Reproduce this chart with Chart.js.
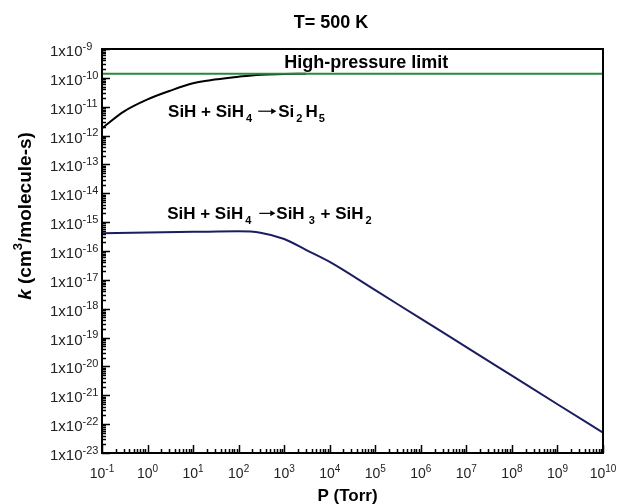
<!DOCTYPE html>
<html>
<head>
<meta charset="utf-8">
<script src="https://cdn.jsdelivr.net/npm/chart.js@4.4.1/dist/chart.umd.min.js"></script>
<style>
  html, body { margin: 0; padding: 0; background: #fff; }
</style>
</head>
<body>
<canvas id="rate-chart" width="617" height="504"></canvas>
<script>
// pressure (Torr) and rate constants k (cm3/molecule-s) at T = 500 K
const pressureAdd = [0.1, 0.3, 1, 3, 10, 30, 100, 300, 1000, 3000];
const kAdd = [1.8e-12, 6.8e-12, 1.8e-11, 3.5e-11, 6.5e-11, 8.7e-11, 1.1e-10, 1.29e-10, 1.35e-10, 1.4e-10];

const pressureAbs = [0.1, 1, 10, 100, 300, 1000, 3000, 1e4, 1e5, 1e6, 1e7, 1e8, 1e9, 1e10];
const kAbs = [4.1e-16, 4.4e-16, 4.6e-16, 4.8e-16, 4.3e-16, 2.6e-16, 1.1e-16, 4.2e-17, 4.4e-18, 4.5e-19, 4.7e-20, 4.8e-21, 4.9e-22, 5.1e-23];

const pressureLimit = [0.1, 1e10];
const kLimit = [1.4e-10, 1.4e-10];

const xExps = [-1, 0, 1, 2, 3, 4, 5, 6, 7, 8, 9, 10];
const yExps = [-23, -22, -21, -20, -19, -18, -17, -16, -15, -14, -13, -12, -11, -10, -9];

const FONT = '"Liberation Sans", Arial, sans-serif';

const toPoints = (xs, ys) => xs.map((x, i) => ({ x, y: ys[i] }));

// rich text: segments of {t, sub, sup, it} or {gap} or {arrow}
function drawRich(ctx, segs, x, y, size, align) {
    const small = Math.round(size * 0.66);
    const fontOf = s => `${s.it ? 'italic ' : ''}bold ${s.sub || s.sup ? small : size}px ${FONT}`;
    const widthOf = s => {
        if (s.gap) return s.gap;
        if (s.arrow) return s.arrow;
        ctx.font = fontOf(s);
        return ctx.measureText(s.t).width;
    };
    const total = segs.reduce((w, s) => w + widthOf(s), 0);
    let cx = align === 'center' ? x - total / 2 : x;
    ctx.textAlign = 'left';
    ctx.textBaseline = 'alphabetic';
    segs.forEach(s => {
        const w = widthOf(s);
        if (s.arrow) {
            const ay = y - size * 0.33;
            ctx.save();
            ctx.lineWidth = 1.2;
            ctx.beginPath();
            ctx.moveTo(cx, ay);
            ctx.lineTo(cx + w - 1, ay);
            ctx.stroke();
            ctx.beginPath();
            ctx.moveTo(cx + w, ay);
            ctx.lineTo(cx + w - 5, ay - 3);
            ctx.lineTo(cx + w - 5, ay + 3);
            ctx.closePath();
            ctx.fill();
            ctx.restore();
        } else if (s.t) {
            ctx.font = fontOf(s);
            const dy = s.sub ? size * 0.32 : s.sup ? -size * 0.45 : 0;
            ctx.fillText(s.t, cx, y + dy);
        }
        cx += w;
    });
}

function supLabel(ctx, base, sup, x, y, size, align) {
    ctx.font = `${size}px ${FONT}`;
    const wb = ctx.measureText(base).width;
    ctx.font = `${Math.round(size * 0.7)}px ${FONT}`;
    const ws = ctx.measureText(sup).width;
    const x0 = align === 'center' ? x - (wb + ws) / 2 : x;
    ctx.textAlign = 'left';
    ctx.textBaseline = 'alphabetic';
    ctx.font = `${size}px ${FONT}`;
    ctx.fillText(base, x0, y);
    ctx.font = `${Math.round(size * 0.7)}px ${FONT}`;
    ctx.fillText(sup, x0 + wb, y - size * 0.42);
}

const notes = [
    { p: 10 ** 4.8, k: 10 ** -9.67, align: 'center', size: 18, segs: [{ t: 'High-pressure limit' }] },
    { p: 10 ** 0.45, k: 10 ** -11.35, align: 'left', size: 17,
      segs: [{ t: 'SiH + SiH' }, { gap: 2 }, { t: '4', sub: true }, { gap: 6 }, { arrow: 18 }, { gap: 2 },
             { t: 'Si' }, { gap: 2 }, { t: '2', sub: true }, { gap: 3 }, { t: 'H' }, { gap: 1 }, { t: '5', sub: true }] },
    { p: 10 ** 0.43, k: 10 ** -14.89, align: 'left', size: 17,
      segs: [{ t: 'SiH + SiH' }, { gap: 2 }, { t: '4', sub: true }, { gap: 8 }, { arrow: 16 }, { gap: 1 },
             { t: 'SiH' }, { gap: 4 }, { t: '3', sub: true }, { gap: 1 }, { t: ' + SiH' }, { gap: 2 }, { t: '2', sub: true }] }
];

const decor = {
    id: 'decor',
    afterDatasetsDraw(chart) {
        const { ctx, chartArea: a, scales: { x, y } } = chart;
        ctx.save();
        ctx.strokeStyle = '#000';
        ctx.fillStyle = '#000';

        // inward ticks
        ctx.lineWidth = 1.5;
        ctx.beginPath();
        xExps.forEach(e => {
            for (let m = 1; m <= 9; m++) {
                const v = m * 10 ** e;
                if (v > x.max * 1.0001) break;
                const px = Math.round(x.getPixelForValue(v)) + 0.5;
                const len = m === 1 ? 8 : 4;
                ctx.moveTo(px, a.bottom);
                ctx.lineTo(px, a.bottom - len);
            }
        });
        yExps.forEach(e => {
            for (let m = 1; m <= 9; m++) {
                const v = m * 10 ** e;
                if (v > y.max * 1.0001) break;
                const py = Math.round(y.getPixelForValue(v)) + 0.5;
                const len = m === 1 ? 8 : 4;
                ctx.moveTo(a.left, py);
                ctx.lineTo(a.left + len, py);
            }
        });
        ctx.stroke();

        // frame
        ctx.lineWidth = 2;
        ctx.strokeRect(a.left, a.top, a.right - a.left, a.bottom - a.top);

        // tick labels
        ctx.fillStyle = '#222';
        xExps.forEach(e => {
            supLabel(ctx, '10', String(e), x.getPixelForValue(10 ** e), a.bottom + 25, 14, 'center');
        });
        yExps.forEach(e => {
            supLabel(ctx, '1x10', String(e), a.left - 52, y.getPixelForValue(10 ** e) + 7, 15, 'left');
        });

        // titles
        ctx.fillStyle = '#000';
        drawRich(ctx, [{ t: 'T= 500 K' }], a.left + 229, 28, 18, 'center');
        drawRich(ctx, [{ t: 'P (Torr)' }], (a.left + a.right) / 2 - 5, 501, 17, 'center');
        ctx.save();
        ctx.translate(31, a.top + 167);
        ctx.rotate(-Math.PI / 2);
        drawRich(ctx, [{ t: 'k', it: true }, { t: ' (cm' }, { t: '3', sup: true }, { t: '/molecule-s)' }], 0, 0, 19, 'center');
        ctx.restore();

        // curve labels
        notes.forEach(n => {
            drawRich(ctx, n.segs, x.getPixelForValue(n.p), y.getPixelForValue(n.k), n.size, n.align);
        });
        ctx.restore();
    }
};

new Chart(document.getElementById('rate-chart').getContext('2d'), {
    type: 'line',
    data: {
        datasets: [
            {
                label: 'High-pressure limit',
                data: toPoints(pressureLimit, kLimit),
                borderColor: 'rgb(40, 138, 56)',
                borderWidth: 2,
                pointRadius: 0
            },
            {
                label: 'SiH + SiH4 -> Si2H5',
                data: toPoints(pressureAdd, kAdd),
                borderColor: '#000',
                borderWidth: 2,
                pointRadius: 0,
                cubicInterpolationMode: 'monotone'
            },
            {
                label: 'SiH + SiH4 -> SiH3 + SiH2',
                data: toPoints(pressureAbs, kAbs),
                borderColor: 'rgb(28, 28, 96)',
                borderWidth: 2,
                pointRadius: 0,
                cubicInterpolationMode: 'monotone'
            }
        ]
    },
    options: {
        responsive: false,
        animation: false,
        devicePixelRatio: 1,
        layout: { padding: { top: 49, right: 14, left: 0, bottom: 0 } },
        plugins: { legend: { display: false }, title: { display: false }, tooltip: { enabled: false } },
        scales: {
            x: {
                type: 'logarithmic', min: 0.1, max: 1e10,
                grid: { display: false }, border: { display: false },
                ticks: { display: false },
                afterFit: s => { s.height = 51; }
            },
            y: {
                type: 'logarithmic', min: 1e-23, max: 1e-9,
                grid: { display: false }, border: { display: false },
                ticks: { display: false },
                afterFit: s => { s.width = 102; }
            }
        }
    },
    plugins: [decor]
});
</script>
</body>
</html>
